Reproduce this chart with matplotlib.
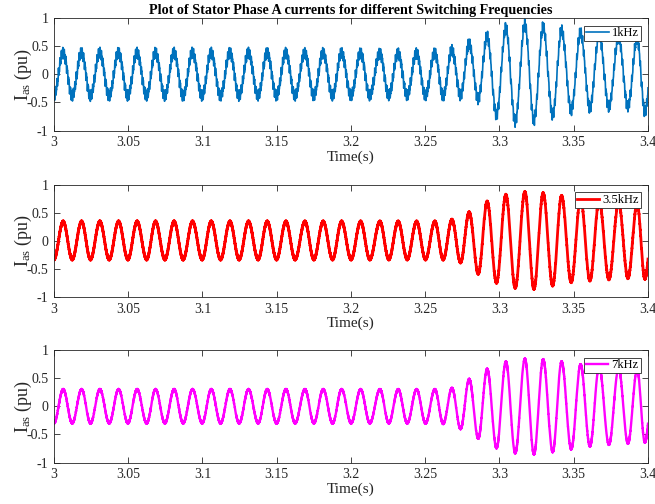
import numpy as np
import matplotlib
matplotlib.use("Agg")
import matplotlib.pyplot as plt
from matplotlib.ticker import FuncFormatter

plt.rcParams['font.family'] = ['Liberation Serif', 'DejaVu Serif']
plt.rcParams['mathtext.fontset'] = 'custom'
plt.rcParams['mathtext.rm'] = 'Liberation Serif'
plt.rcParams['mathtext.it'] = 'Liberation Serif:italic'
plt.rcParams['axes.unicode_minus'] = False

# times of the maxima / minima of the 80 Hz phase current
peak_t = [3.0062, 3.0186, 3.0309, 3.0435, 3.0560, 3.0684, 3.0809, 3.0933, 3.1059, 3.1185,
          3.1310, 3.1436, 3.1562, 3.1690, 3.1813, 3.1937, 3.2065, 3.2195, 3.2318, 3.2442,
          3.2565, 3.2680, 3.2796, 3.2917, 3.3043, 3.3171, 3.3294, 3.3418, 3.3546, 3.3671,
          3.3802, 3.3927, 3.4041]
trough_t = [3.0000, 3.0123, 3.0246, 3.0372, 3.0498, 3.0624, 3.0747, 3.0870, 3.0998, 3.1122,
            3.1247, 3.1375, 3.1499, 3.1624, 3.1750, 3.1876, 3.2001, 3.2127, 3.2255, 3.2379,
            3.2502, 3.2621, 3.2738, 3.2857, 3.2980, 3.3106, 3.3232, 3.3358, 3.3483, 3.3609,
            3.3737, 3.3865, 3.3979]

# peak / trough values (pu) per switching frequency
peak_1k = [0.38] * 21 + [0.42, 0.52, 0.65, 0.80, 0.86, 0.82, 0.76, 0.72, 0.68, 0.64, 0.62, 0.60]
trough_1k = [-0.38] * 22 + [-0.36, -0.42, -0.70, -0.82, -0.80, -0.70, -0.62, -0.58, -0.56, -0.56, -0.64]
peak_35k = [0.34] * 21 + [0.37, 0.50, 0.69, 0.81, 0.86, 0.84, 0.79, 0.74, 0.70, 0.67, 0.65, 0.63]
trough_35k = [-0.33] * 22 + [-0.38, -0.58, -0.74, -0.83, -0.85, -0.79, -0.73, -0.70, -0.68, -0.66, -0.67]
peak_7k = [0.30] * 21 + [0.32, 0.48, 0.66, 0.79, 0.84, 0.83, 0.79, 0.74, 0.70, 0.67, 0.65, 0.63]
trough_7k = [-0.30] * 21 + [-0.31, -0.40, -0.57, -0.74, -0.83, -0.85, -0.81, -0.76, -0.71, -0.68, -0.66, -0.64]

labels = ['1kHz', '3.5kHz', '7kHz']
f_sw = [1000.0, 3500.0, 7000.0]
ripple = [0.13, 0.02, 0.01]
colors = ['#0072BD', '#FF0000', '#FF00FF']
widths = [1.2, 2.0, 1.7]


def waveform(t, pk, tr):
    # join the read extrema with half-cosine segments
    te = np.empty(len(pk) + len(tr))
    ve = np.empty_like(te)
    te[0::2], te[1::2] = trough_t, peak_t
    ve[0::2], ve[1::2] = tr, pk
    i = np.clip(np.searchsorted(te, t, side='right') - 1, 0, len(te) - 2)
    s = (t - te[i]) / (te[i + 1] - te[i])
    return ve[i] + (ve[i + 1] - ve[i]) * (1 - np.cos(np.pi * s)) / 2


def switching_ripple(t, fs, a):
    tri = 2 * np.abs(2 * ((t * fs) % 1) - 1) - 1
    return a * (0.65 * tri + 0.35 * np.sin(2 * np.pi * (2 * fs + 80) * t))


t = np.arange(3.0, 3.4, 4e-6)
data = [(peak_1k, trough_1k), (peak_35k, trough_35k), (peak_7k, trough_7k)]

fig = plt.figure(figsize=(6.55, 5.04), dpi=100)
tops = [18, 184.5, 350]
fmt = FuncFormatter(lambda v, p: '%g' % round(v, 4))

for k in range(3):
    top, bot = tops[k], tops[k] + 112.5
    ax = fig.add_axes([54 / 655, 1 - bot / 504, 594 / 655, 112.5 / 504])
    y = waveform(t, *data[k]) + switching_ripple(t, f_sw[k], ripple[k])
    ax.plot(t, y, color=colors[k], lw=widths[k], label=labels[k])
    ax.set_xlim(3.0, 3.4)
    ax.set_ylim(-1, 1)
    ax.set_xticks(np.arange(3.0, 3.401, 0.05))
    ax.set_yticks([-1, -0.5, 0, 0.5, 1])
    ax.xaxis.set_major_formatter(fmt)
    ax.yaxis.set_major_formatter(fmt)
    ax.tick_params(direction='in', top=True, right=True, length=4, width=0.6,
                   labelsize=10, colors='#262626', pad=4)
    for sp in ax.spines.values():
        sp.set_linewidth(0.6)
        sp.set_color('#262626')
    ax.set_xlabel('Time(s)', fontsize=11, labelpad=1, color='#262626')
    ax.set_ylabel(r'I$_{\mathrm{as}}$ (pu)', fontsize=13, labelpad=-5, color='#262626')
    leg = ax.legend(loc='upper right', fontsize=9, handlelength=1.8, borderpad=0.15,
                    handletextpad=0.25, borderaxespad=0.6, fancybox=False, framealpha=1)
    leg.get_frame().set_edgecolor('#262626')
    leg.get_frame().set_linewidth(0.6)
    if k == 0:
        ax.set_title('Plot of Stator Phase A currents for different Switching Frequencies',
                     fontsize=10.2, fontweight='bold', pad=3)

fig.savefig('out.png', dpi=100)
